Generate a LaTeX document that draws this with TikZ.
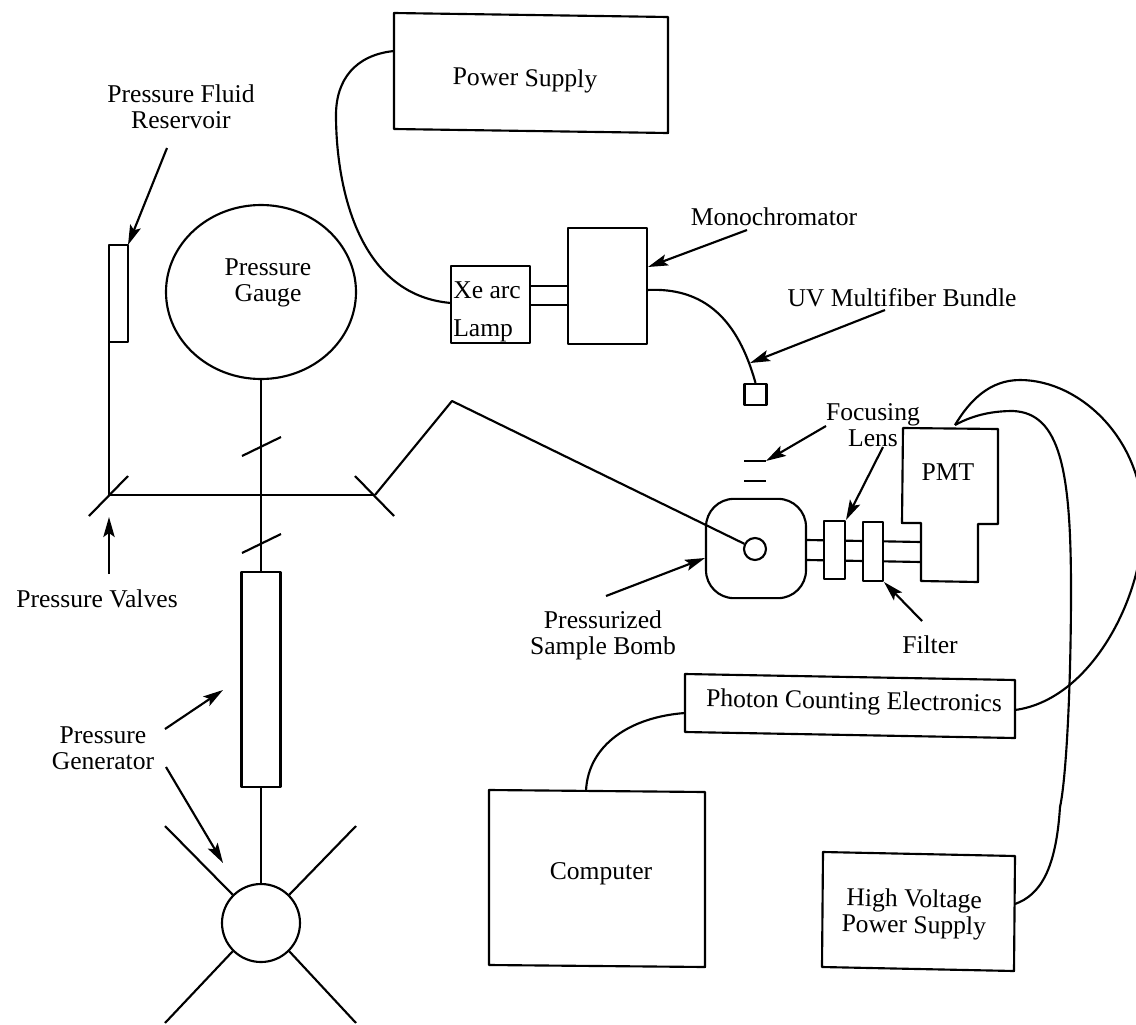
\documentclass[tikz,border=0pt]{standalone}
\usepackage{fontspec}
\setmainfont{Liberation Serif}
\usetikzlibrary{arrows.meta,shapes.geometric}
\tikzset{
 ln/.style={draw=black,line width=1.6pt,line join=round},
 arr/.style={ln,-{Stealth[length=15pt,width=8.5pt,inset=3pt]}},
 bx/.style 2 args={ln,rectangle,inner sep=0pt,minimum width=#1*0.75pt,minimum height=#2*0.75pt},
 lbl/.style={font=\fontsize{19.2}{19.5}\selectfont,align=center,inner sep=0pt,text=black},
}
\begin{document}
\begin{tikzpicture}[x=0.75pt,y=-0.75pt]
\useasboundingbox (0,0) rectangle (1136,1025);
% --- skewed boxes, drawn by corners
\draw[ln] (394,13) coordinate (psNW) -- (668,17) -- (668,133) -- (394,129) -- cycle;
\draw[ln] (685,674) -- (1015,680) -- (1015,738) -- (685,732) -- cycle;
\draw[ln] (489,790) -- (705,792) -- (705,967) -- (489,965) -- cycle;
\draw[ln] (823,852) -- (1015,856) -- (1014,971) -- (822,967) -- cycle;
\draw[ln] (903,428) -- (998,429) -- (998,524) -- (978,524) -- (978,582) -- (921,581) -- (921,523) -- (902,523) -- cycle;
% --- connection points
\coordinate (psOut) at (394,51);
\coordinate (lampIn) at (451,303);
\coordinate (monoOut) at (647,290);
\coordinate (pmtOut) at (955,425);
\coordinate (pceIn) at (1015,710);
\coordinate (pceOut) at (685,713);
\coordinate (compIn) at (586,791);
\coordinate (hvOut) at (1015,904);
% --- rectangular nodes
\node[bx={19.5}{97}] (reservoir) at (118.5,293.5) {};
\node[bx={39}{215}] (generator) at (261,679.5) {};
\node[bx={79}{77}] (lamp) at (490.5,304.5) {};
\node[bx={79}{116}] (mono) at (607.5,286) {};
\node[bx={22}{21}] (fiberEnd) at (755.5,394.5) {};
% --- round nodes
\node[ln,ellipse,inner sep=0pt,minimum width=142.5pt,minimum height=130.5pt] (gauge) at (261,292) {};
\node[ln,circle,inner sep=0pt,minimum size=58.5pt] (wheel) at (261,923) {};
\node[ln,rectangle,rounded corners=21pt,inner sep=0pt,minimum width=75pt,minimum height=74.5pt] (bomb) at (756,548.5) {};
\node[ln,circle,inner sep=0pt,minimum size=16.5pt] (samp) at (755,549) {};
% --- plumbing
\coordinate (vL) at (109,495);
\coordinate (vR) at (375,495);
\coordinate (apex) at (452,401);
\coordinate (resOut) at (109,342);
\draw[ln] (resOut) -- (vL);
\draw[ln] (vL) -- (vR);
\coordinate (vL1) at (89,516); \coordinate (vL2) at (128,476);
\coordinate (vR1) at (355,476); \coordinate (vR2) at (394,516);
\draw[ln] (vL1) -- (vL2);
\draw[ln] (vR1) -- (vR2);
\draw[ln] (vR) -- (apex) -- (samp);
\draw[ln] (gauge.south) -- (generator.north);
\coordinate (s1a) at (242,456); \coordinate (s1b) at (281,437);
\coordinate (s2a) at (242,553); \coordinate (s2b) at (281,534);
\draw[ln] (s1a) -- (s1b);
\draw[ln] (s2a) -- (s2b);
\draw[ln] (generator.south) -- (wheel.north);
\coordinate (spNW) at (165,826); \coordinate (spNE) at (356,826);
\coordinate (spSW) at (165,1023); \coordinate (spSE) at (356,1023);
\draw[ln] (wheel.135) -- (spNW);
\draw[ln] (wheel.45) -- (spNE);
\draw[ln] (wheel.225) -- (spSW);
\draw[ln] (wheel.315) -- (spSE);
% --- optics
\draw[ln] (lamp.east |- 0,286) -- (mono.west |- 0,286);
\draw[ln] (lamp.east |- 0,305) -- (mono.west |- 0,305);
\coordinate (lensA) at (744,461); \coordinate (lensB) at (766,461);
\coordinate (lensC) at (744,481); \coordinate (lensD) at (766,481);
\draw[ln] (lensA) -- (lensB);
\draw[ln] (lensC) -- (lensD);
\coordinate (pmtT1) at (921,542); \coordinate (pmtT2) at (921,562);
\draw[ln] (bomb.east |- 0,540) -- (pmtT1);
\draw[ln] (bomb.east |- 0,560) -- (pmtT2);
\node[bx={21}{58},fill=white] (lens) at (834.5,550) {};
\node[bx={20}{59},fill=white] (filter) at (873,551.5) {};
% --- cables
\draw[ln] (psOut) .. controls (355,55) and (336,80) .. (336,115) .. controls (336,180) and (355,295) .. (lampIn);
\draw[ln] (monoOut) .. controls (705,287) and (738,320) .. (fiberEnd.north);
\draw[ln] (pceOut) .. controls (630,717) and (588,745) .. (compIn);
\draw[ln] (pmtOut) .. controls (970,400) and (990,380) .. (1020,380) .. controls (1080,380) and (1145,440) .. (1143,525) .. controls (1142,600) and (1090,700) .. (pceIn);
\draw[ln] (pmtOut) .. controls (975,414) and (995,411) .. (1013,411) .. controls (1060,413) and (1071,470) .. (1071,590) .. controls (1071,690) and (1066,780) .. (1060,807) .. controls (1056,870) and (1040,895) .. (hvOut);
% --- labels
\node[lbl,rotate=-1] (tPS) at (525,80) {Power Supply};
\node[lbl] (tReservoir) at (181,107) {Pressure Fluid\\Reservoir};
\node[lbl] (tMono) at (774,217) {Monochromator};
\node[lbl] (tUV) at (902,298) {UV Multifiber Bundle};
\node[lbl] (tGauge) at (268,283) {Pressure\\Gauge};
\node[lbl,anchor=west] (tXe) at (453,290) {Xe arc};
\node[lbl,anchor=west] (tLamp) at (453,331) {Lamp};
\node[lbl] (tFocus) at (873,425) {Focusing\\Lens};
\node[lbl] (tPMT) at (948,472) {PMT};
\node[lbl] (tValves) at (97,599) {Pressure Valves};
\node[lbl] (tBomb) at (603,635) {Pressurized\\Sample Bomb};
\node[lbl] (tFilter) at (930,645) {Filter};
\node[lbl,rotate=-1] (tPCE) at (854,703) {Photon Counting Electronics};
\node[lbl] (tGen) at (103,748) {Pressure\\Generator};
\node[lbl] (tComp) at (601,874) {Computer};
\node[lbl,rotate=-1] (tHV) at (914,914) {High Voltage\\Power Supply};
% --- leader arrows
\coordinate (a1) at (167,148); \coordinate (a1t) at (128,245);
\draw[arr] (a1) -- (a1t);
\coordinate (a2) at (747,230); \coordinate (a2t) at (648,267);
\draw[arr] (a2) -- (a2t);
\coordinate (a3) at (885,310); \coordinate (a3t) at (750,363);
\draw[arr] (a3) -- (a3t);
\coordinate (a4) at (826,426); \coordinate (a4t) at (766,461);
\draw[arr] (a4) -- (a4t);
\coordinate (a5) at (883,447); \coordinate (a5t) at (846,520);
\draw[arr] (a5) -- (a5t);
\coordinate (a6) at (109,574); \coordinate (a6t) at (109,517);
\draw[arr] (a6) -- (a6t);
\coordinate (a7) at (606,596); \coordinate (a7t) at (705,558);
\draw[arr] (a7) -- (a7t);
\coordinate (a8) at (922,621); \coordinate (a8t) at (884,582);
\draw[arr] (a8) -- (a8t);
\coordinate (a9) at (165,729); \coordinate (a9t) at (223,690);
\draw[arr] (a9) -- (a9t);
\coordinate (a10) at (166,767); \coordinate (a10t) at (223,863);
\draw[arr] (a10) -- (a10t);
\end{tikzpicture}
\end{document}
